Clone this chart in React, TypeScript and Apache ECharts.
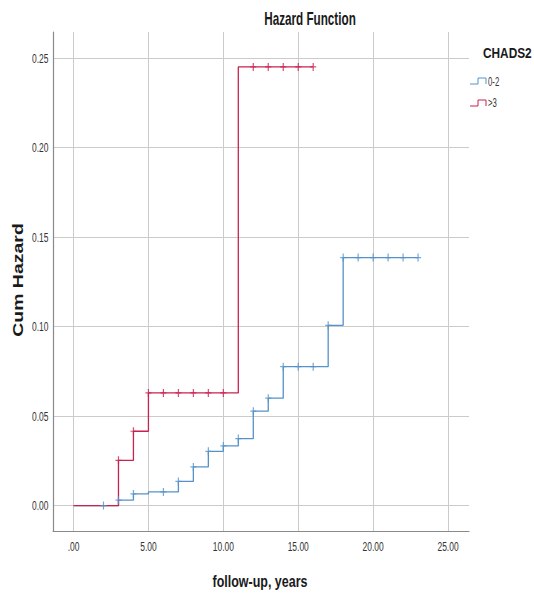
import React, { useEffect, useRef } from "react";
import * as echarts from "echarts";

const W = 534;
const H = 594;

// CHADS2 0-2: step times (years) and cumulative hazard after each step
const lowTimes = [0, 3, 4, 5, 7, 8, 9, 10, 11, 12, 13, 14, 17, 18, 23];
const lowHazard = [0, 0.003, 0.0065, 0.0076, 0.0135, 0.0216, 0.0303, 0.0333, 0.0374, 0.0527, 0.06, 0.0776, 0.1007, 0.1385, 0.1385];
const lowCensored = [2, 3, 4, 6, 7, 8, 9, 10, 11, 12, 13, 14, 15, 16, 17, 18, 19, 20, 21, 22, 23];

// CHADS2 >3
const highTimes = [0, 3, 4, 5, 11, 16];
const highHazard = [0, 0.0253, 0.0415, 0.0629, 0.245, 0.245];
const highCensored = [3, 4, 5, 6, 7, 8, 9, 10, 12, 13, 14, 15, 16];

const xTicks = [0, 5, 10, 15, 20, 25];
const yTicks = [0, 0.05, 0.1, 0.15, 0.2, 0.25];

const groupNames = ["0-2", ">3"];
const groupColors = ["#5592c9", "#c8234f"];

const X_MIN = -1.37;
const X_MAX = 26.4;
const Y_MIN = -0.0142;
const Y_MAX = 0.2645;

const PLUS = "path://M-0.6,-4H0.6V-0.6H3V0.6H0.6V4H-0.6V0.6H-3V-0.6H-0.6Z";

const sans = "'Liberation Sans', Arial, sans-serif";

function hazardAt(times: number[], hz: number[], t: number): number {
  let v = hz[0];
  for (let i = 0; i < times.length; i++) {
    if (times[i] <= t) v = hz[i];
  }
  return v;
}

function stepSeries(name: string, times: number[], hz: number[], color: string) {
  return {
    name,
    type: "line",
    step: "end",
    showSymbol: false,
    silent: true,
    lineStyle: { color, width: 1.3 },
    data: times.map((t, i) => [t, hz[i]]),
    z: 2,
  };
}

function censorSeries(name: string, times: number[], hz: number[], cens: number[], color: string) {
  return {
    name,
    type: "scatter",
    symbol: PLUS,
    symbolSize: [6, 8],
    silent: true,
    itemStyle: { color },
    data: cens.map((t) => [t, hazardAt(times, hz, t)]),
    z: 3,
  };
}

function label(text: string, x: number, y: number, size: number, scaleX: number, opts: any = {}) {
  return {
    type: "text",
    x,
    y,
    scaleX,
    rotation: opts.rotation || 0,
    silent: true,
    style: {
      text,
      font: `${opts.bold ? "bold " : ""}${size}px ${sans}`,
      fill: opts.fill || "#1a1a1a",
      align: opts.align || "center",
      verticalAlign: "middle",
    },
  };
}

function legendIcon(x: number, yLow: number, yTop: number, color: string) {
  return {
    type: "polyline",
    silent: true,
    shape: {
      points: [
        [x, yLow],
        [x + 8, yLow],
        [x + 8, yTop],
        [x + 16, yTop],
        [x + 16, yLow],
      ],
    },
    style: { stroke: color, lineWidth: 1, fill: null },
  };
}

const xFmt = (v: number) => (v === 0 ? ".00" : v.toFixed(2));
const yFmt = (v: number) => v.toFixed(2);

export default function App() {
  const ref = useRef<HTMLDivElement>(null);

  useEffect(() => {
    if (!ref.current) return;
    const chart = echarts.init(ref.current, null, { renderer: "svg" });
    chart.setOption({
      animation: false,
      backgroundColor: "#ffffff",
      grid: { left: 53, right: 65, top: 32, bottom: 63, containLabel: false },
      xAxis: {
        type: "value",
        min: X_MIN,
        max: X_MAX,
        axisLine: { show: true, onZero: false, lineStyle: { color: "#8a8a8a", width: 1.2 } },
        axisTick: { show: false, customValues: xTicks },
        axisLabel: { show: false, customValues: xTicks },
        splitLine: { show: true, lineStyle: { color: "#cbcbcb", width: 1 } },
      },
      yAxis: {
        type: "value",
        min: Y_MIN,
        max: Y_MAX,
        axisLine: { show: true, onZero: false, lineStyle: { color: "#8a8a8a", width: 1.2 } },
        axisTick: { show: false, customValues: yTicks },
        axisLabel: { show: false, customValues: yTicks },
        splitLine: { show: true, lineStyle: { color: "#cbcbcb", width: 1 } },
      },
      series: [
        stepSeries(groupNames[0], lowTimes, lowHazard, groupColors[0]),
        stepSeries(groupNames[1], highTimes, highHazard, groupColors[1]),
        censorSeries(groupNames[0] + " censored", lowTimes, lowHazard, lowCensored, groupColors[0]),
        censorSeries(groupNames[1] + " censored", highTimes, highHazard, highCensored, groupColors[1]),
      ],
    });

    // tick labels placed through the axes' own scales
    const axisBottom = chart.convertToPixel({ yAxisIndex: 0 }, Y_MIN) as number;
    const axisLeft = chart.convertToPixel({ xAxisIndex: 0 }, X_MIN) as number;
    const tickLabels = [
      ...xTicks.map((v) =>
        label(xFmt(v), chart.convertToPixel({ xAxisIndex: 0 }, v) as number, axisBottom + 15, 13, 0.65, { fill: "#333" })
      ),
      ...yTicks.map((v) =>
        label(yFmt(v), axisLeft - 4.5, chart.convertToPixel({ yAxisIndex: 0 }, v) as number, 13, 0.65, {
          fill: "#333",
          align: "right",
        })
      ),
    ];

    chart.setOption({
      graphic: [
        ...tickLabels,
        label("Hazard Function", 310, 18, 18, 0.65, { bold: true }),
        label("Cum Hazard", 18, 280, 15, 1.3, { bold: true, rotation: Math.PI / 2 }),
        label("follow-up, years", 260, 581, 16, 0.78, { bold: true }),
        label("CHADS2", 483, 53, 15, 0.79, { bold: true, align: "left" }),
        legendIcon(470, 84, 78, groupColors[0]),
        label(groupNames[0], 488, 82, 12, 0.65, { fill: "#333", align: "left" }),
        legendIcon(470, 106, 100, groupColors[1]),
        label(groupNames[1], 488, 103, 12, 0.65, { fill: "#333", align: "left" }),
      ],
    });

    return () => chart.dispose();
  }, []);

  return (
    <div
      ref={ref}
      style={{ position: "fixed", left: 0, top: 0, width: W, height: H, background: "#fff" }}
    />
  );
}
